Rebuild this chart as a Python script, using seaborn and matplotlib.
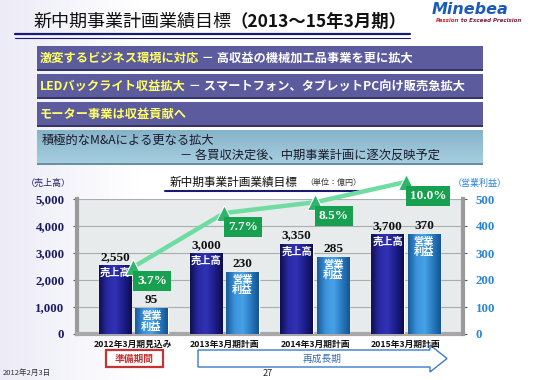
import numpy as np
import matplotlib
matplotlib.use("Agg")
import matplotlib.pyplot as plt
import seaborn as sns
from matplotlib.patches import Rectangle, Polygon
from matplotlib.colors import LinearSegmentedColormap

# chart data (億円 / %)
periods = ["2012年3月期見込み", "2013年3月期計画", "2014年3月期計画", "2015年3月期計画"]
sales = [2550, 3000, 3350, 3700]
profit = [95, 230, 285, 370]
margin = [3.7, 7.7, 8.5, 10.0]
sales_ticks = [0, 1000, 2000, 3000, 4000, 5000]
profit_ticks = [0, 100, 200, 300, 400, 500]

title_main = "新中期事業計画業績目標"
title_span = "（2013～15年3月期）"
banner_heads = ["激変するビジネス環境に対応", "LEDバックライト収益拡大", "モーター事業は収益貢献へ"]
banner_tails = [" － 高収益の機械加工品事業を更に拡大", " － スマートフォン、タブレットPC向け販売急拡大", ""]
ma_lines = ["積極的なM&Aによる更なる拡大", "－ 各買収決定後、中期事業計画に逐次反映予定"]

sns.set_theme(style="white")
plt.rcParams["font.family"] = ["Noto Sans CJK JP", "DejaVu Sans"]
SERIF = ["Liberation Serif", "DejaVu Serif"]

NAVY = "#1c1c84"
BLUE = "#2a86d2"
GREEN = "#17a04f"

fig = plt.figure(figsize=(5.39, 3.80), dpi=100)
fig.patch.set_facecolor("white")

# full-page layer in pixel coordinates for the slide decoration
bg = fig.add_axes([0, 0, 1, 1], zorder=0)
bg.set_xlim(0, 539)
bg.set_ylim(380, 0)
bg.axis("off")

# faint lavender wash on the left like the slide template
wash = LinearSegmentedColormap.from_list("wash", ["#ecebf7", "#ffffff"])
bg.imshow(np.linspace(0, 1, 80).reshape(1, -1), extent=[0, 140, 380, 0],
          cmap=wash, aspect="auto", zorder=0)

# page title + double rule
t0 = bg.text(33, 22, title_main, fontsize=13, va="center", ha="left", color="#111111")
bg.annotate(title_span, xy=(1, 0.5), xycoords=t0, fontsize=12.5, fontweight="bold",
            va="center", ha="left", color="#111111")
bg.plot([15, 410], [33.5, 33.5], color="#1a1a70", lw=1.6)
bg.plot([15, 410], [37.5, 37.5], color="#1a1a70", lw=0.8)

# logo
bg.text(470, 9, "Minebea", fontsize=11.5, fontweight="bold", fontstyle="italic",
        color="#1d5bb8", ha="center", va="center", family=["DejaVu Sans"])
p1 = bg.text(436, 20, "Passion", fontsize=4.0, fontstyle="italic", fontweight="bold",
             color="#d0202a", ha="left", va="center", family=["DejaVu Sans"])
bg.annotate(" to Exceed Precision", xy=(1, 0.5), xycoords=p1, fontsize=4.0,
            fontstyle="italic", fontweight="bold", color="#7a1f3a", ha="left",
            va="center", family=["DejaVu Sans"])

# purple banners
for i, (head, tail) in enumerate(zip(banner_heads, banner_tails)):
    top = 46 + i * 28
    bg.add_patch(Rectangle((37, top), 446, 25, fc="#5b5b9e", ec="none", zorder=1))
    bg.add_patch(Rectangle((37, top + 23), 446, 2, fc="#34346a", ec="none", zorder=1))
    t1 = bg.text(40, top + 12, head, fontsize=8.8, fontweight="bold", color="#ffff66",
                 va="center", ha="left", zorder=3)
    if tail:
        bg.annotate(tail, xy=(1, 0.5), xycoords=t1, fontsize=8.8, fontweight="bold",
                    color="white", va="center", ha="left", zorder=3)

# light-blue M&A banner
blue_grad = LinearSegmentedColormap.from_list("bb", ["#86b3c9", "#a8cfe0"])
bg.imshow(np.linspace(0, 1, 50).reshape(-1, 1), extent=[37, 483, 165, 130],
          cmap=blue_grad, aspect="auto", zorder=1)
bg.add_patch(Rectangle((37, 163), 446, 2, fc="#6a8fa2", ec="none", zorder=2))
bg.text(42, 140, ma_lines[0], fontsize=8.8, color="#1a1a2a", va="center", ha="left", zorder=3)
bg.text(180, 155, ma_lines[1], fontsize=8.8, color="#1a1a2a", va="center", ha="left", zorder=3)

# chart title
bg.text(170, 182, "新中期事業計画業績目標", fontsize=8.4, va="center", ha="left", color="#111111")
bg.text(305, 182, "（単位：億円）", fontsize=5.8, va="center", ha="left", color="#333333")
bg.plot([165, 364], [190.5, 190.5], color="#1a1a70", lw=1.5)
bg.text(48, 183, "（売上高）", fontsize=6.5, va="center", ha="center", color="#22226a")
bg.text(480, 183, "（営業利益）", fontsize=6.5, va="center", ha="center", color=BLUE)

# margin-line caption
bg.text(152, 214, "（営業利益率）", fontsize=5.3, va="center", ha="center", color="#3a9a70")
bg.plot([180, 201], [215, 225.5], color="#4dbb88", lw=0.8)

# period boxes under the axis
bg.add_patch(Rectangle((106, 350), 57, 17, fc="white", ec="#c83232", lw=1.6))
bg.text(134.5, 358.5, "準備期間", fontsize=7, fontweight="bold", color="#c83232",
        ha="center", va="center")
bg.add_patch(Polygon([(198, 350), (430, 350), (430, 345), (447, 358.5), (430, 372),
                      (430, 367), (198, 367)], closed=True, fc="white", ec="#3a7ac8", lw=1.0))
bg.text(322, 358.5, "再成長期", fontsize=7, color="#3a6ab8", ha="center", va="center")

bg.text(3, 373, "2012年2月3日", fontsize=5.5, fontstyle="italic", color="#333333",
        ha="left", va="center")
bg.text(268, 373, "27", fontsize=6.5, color="#222222", ha="center", va="center")

# ---- chart axes ----
ax = fig.add_axes([77 / 539, 1 - 334 / 380, 386 / 539, 135 / 380], zorder=2)
ax.set_facecolor("#e7ebeb")
ax2 = ax.twinx()
ax2.set_zorder(3)
ax3 = ax.twinx()
ax3.set_zorder(4)

xs = np.arange(len(periods))
sns.barplot(x=xs - 0.2, y=sales, native_scale=True, width=0.36, color=NAVY,
            saturation=1, ax=ax, zorder=3)
sns.barplot(x=xs + 0.2, y=profit, native_scale=True, width=0.36, color=BLUE,
            saturation=1, ax=ax2, zorder=3)


def shade(axis, colors):
    cmap = LinearSegmentedColormap.from_list("cyl", colors)
    grad = np.linspace(0, 1, 64).reshape(1, -1)
    for p in axis.patches:
        x0, y0 = p.get_xy()
        im = axis.imshow(grad, extent=[x0, x0 + p.get_width(), y0, y0 + p.get_height()],
                         cmap=cmap, aspect="auto", zorder=3.2, interpolation="bilinear")
        im.set_clip_path(p)


shade(ax, ["#0f0f52", "#2a2aa6", "#3131b4", "#1e1e8c", "#0d0d4c"])
shade(ax2, ["#175a98", "#3b92da", "#48a2e8", "#2a7cc2", "#165493"])

for axis, vals, inner in [(ax, sales, "売上高"), (ax2, profit, "営業\n利益")]:
    for p, v in zip(axis.patches, vals):
        cx = p.get_x() + p.get_width() / 2
        top = p.get_height()
        axis.annotate(f"{v:,}", xy=(cx, top), xytext=(0, 2), textcoords="offset pixels",
                      ha="center", va="bottom", fontsize=9.5, fontweight="bold",
                      family=SERIF, color="#111111", zorder=5)
        axis.annotate(inner, xy=(cx, top), xytext=(0, -3), textcoords="offset pixels",
                      ha="center", va="top", fontsize=7.4, fontweight="bold", color="white",
                      linespacing=1.0, zorder=5)

# operating margin line (hidden scale)
sns.lineplot(x=xs, y=margin, ax=ax3, color="#6fdca2", lw=3.2, marker="^", markersize=11,
             markerfacecolor="#2fb46e", markeredgecolor="white", markeredgewidth=0.8,
             clip_on=False, zorder=6)
for m_x, m in zip(xs, margin):
    ax3.annotate(f"{m:.1f}%", xy=(m_x, m), xytext=(4, -14), textcoords="offset pixels",
                 ha="left", va="center", fontsize=9.5, fontweight="bold", family=SERIF,
                 color="white", annotation_clip=False, zorder=7,
                 bbox=dict(boxstyle="square,pad=0.3", fc=GREEN, ec="none"))

# scales
ax.set_xlim(-0.62, 3.63)
ax.set_ylim(0, 5000)
ax2.set_ylim(0, 500)
ax3.set_ylim(-1.26, 8.74)
ax3.axis("off")

ax.set_yticks(sales_ticks)
ax.set_yticklabels([f"{t:,}" for t in sales_ticks], family=SERIF, fontweight="bold",
                   fontsize=9.3, color="#1a1a66")
ax2.set_yticks(profit_ticks)
ax2.set_yticklabels([str(t) for t in profit_ticks], family=SERIF, fontweight="bold",
                    fontsize=9.3, color=BLUE)
ax.set_xticks(xs)
ax.set_xticklabels(periods, fontsize=6.3, fontweight="bold", color="#111111")
ax.tick_params(axis="x", length=0, pad=4)
ax.tick_params(axis="y", length=3, width=0.8, color="#555555", pad=6, left=True)
ax2.tick_params(axis="y", length=3, width=0.8, color="#555555", pad=6, right=True)
ax.set_xlabel("")
ax.set_ylabel("")
ax2.set_ylabel("")

ax.yaxis.grid(True, color="#a9adad", lw=0.8)
ax.set_axisbelow(True)
for a in (ax, ax2):
    for side in ("top", "left", "right", "bottom"):
        a.spines[side].set_visible(False)
ax.spines["left"].set_visible(True)
ax.spines["left"].set_color("#9a9a9a")
ax.spines["left"].set_linewidth(3)
ax.spines["bottom"].set_visible(True)
ax.spines["bottom"].set_color("#a8a8a8")
ax.spines["bottom"].set_linewidth(3)
ax2.spines["right"].set_visible(True)
ax2.spines["right"].set_color("#9a9a9a")
ax2.spines["right"].set_linewidth(3)

fig.savefig("out.png", dpi=100)
